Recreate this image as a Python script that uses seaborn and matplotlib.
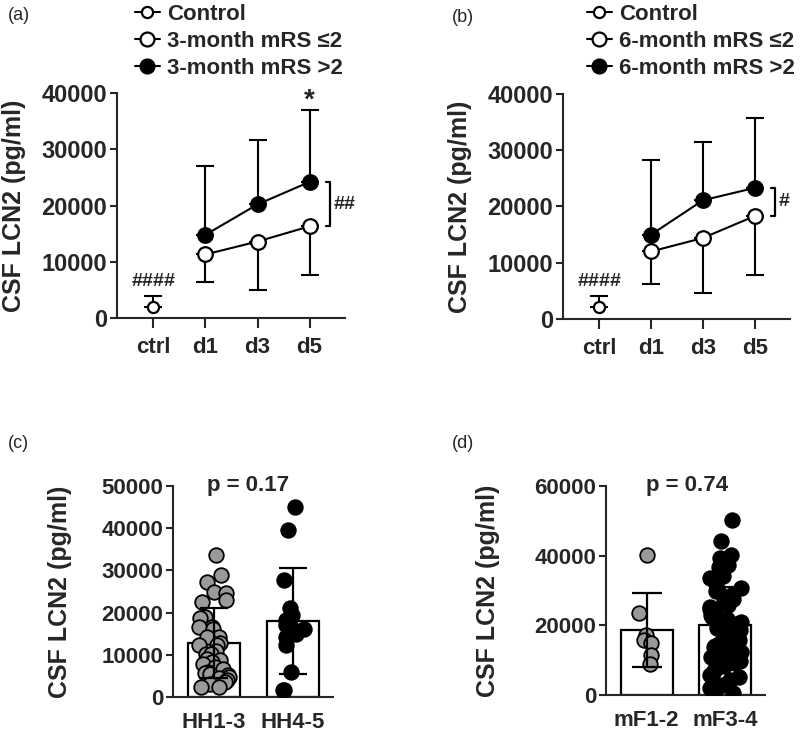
import numpy as np
import pandas as pd
import matplotlib
matplotlib.use('Agg')
import matplotlib.pyplot as plt
import seaborn as sns
from matplotlib.lines import Line2D

# ---- panels a / b : mean with one-sided SD (pg/ml) ----
days = ['ctrl', 'd1', 'd3', 'd5']

a_ctrl_mean = [2000]
a_ctrl_sd = [1900]
a_good_mean = [11300, 13600, 16300]   # 3-month mRS <=2, SD drawn down
a_good_sd = [4900, 8600, 8700]
a_poor_mean = [14800, 20200, 24200]   # 3-month mRS >2, SD drawn up
a_poor_sd = [12200, 11500, 12800]

b_ctrl_mean = [2100]
b_ctrl_sd = [2000]
b_good_mean = [12000, 14400, 18300]
b_good_sd = [5800, 9800, 10500]
b_poor_mean = [15000, 21100, 23300]
b_poor_sd = [13300, 10400, 12500]

# ---- panel c : Hunt-Hess grade ----
hh_groups = ['HH1-3', 'HH4-5']
hh_mean = [12800, 18000]
hh_sd = [8200, 12600]
hh13 = [33600, 28900, 27300, 24900, 24600, 22900, 22500, 19000, 18600, 16600,
        16500, 16200, 14200, 14200, 12700, 12300, 12300, 11000, 10300, 10300,
        9100, 8800, 8300, 7900, 7100, 6700, 6000, 5800, 5500, 5100, 4700, 4400,
        4000, 3600, 3000, 2400, 2400]
hh45 = [45000, 39600, 27700, 21200, 19400, 18200, 17000, 16600, 16200, 15000,
        14200, 12300, 5900, 1600, 1600]

# ---- panel d : modified Fisher grade ----
mf_groups = ['mF1-2', 'mF3-4']
mf_mean = [18700, 20000]
mf_sd = [10600, 11000]
mf12 = [40200, 23400, 17200, 15800, 14800, 11500, 8900]
mf34 = [50200, 44300, 40100, 39200, 37400, 36800, 34100, 33500, 31900, 30600,
        29800, 28700, 28300, 27600, 26900, 25800, 25200, 24700, 24300, 23600,
        23100, 22400, 21900, 21700, 21000, 20600, 20100, 19700, 19200, 18800,
        18300, 17900, 17400, 17100, 16600, 16200, 15800, 15300, 14900, 14600,
        14100, 13700, 13300, 12800, 12200, 11900, 11300, 10800, 10400, 9700,
        9100, 8600, 8200, 7400, 6900, 5800, 5100, 4300, 3700, 2900, 2100, 1200, 600]

sns.set_style('ticks')
plt.rcParams['font.family'] = ['Liberation Sans', 'DejaVu Sans']
plt.rcParams['font.weight'] = 'bold'
plt.rcParams['axes.labelweight'] = 'bold'
plt.rcParams['axes.linewidth'] = 1.5
np.random.seed(3)

GRAY = '#9a9a9a'
YLABEL = 'CSF LCN2 (pg/ml)'

fig = plt.figure(figsize=(8, 7.37), dpi=100)
ax_a = fig.add_axes([0.14625, 0.5685, 0.285, 0.3053])
ax_b = fig.add_axes([0.70375, 0.5672, 0.28375, 0.3053])
ax_c = fig.add_axes([0.21625, 0.0543, 0.2, 0.2863])
ax_d = fig.add_axes([0.7575, 0.0570, 0.19875, 0.2836])


def line_panel(ax, ctrl_mean, ctrl_sd, good_mean, good_sd, poor_mean, poor_sd,
               star, sig):
    line_kw = dict(color='black', lw=1.5, marker='o', markeredgecolor='black',
                   markeredgewidth=1.6, zorder=3)
    eb_kw = dict(fmt='none', ecolor='black', elinewidth=1.5, capsize=6.5,
                 capthick=1.5, zorder=2)
    sns.lineplot(x=days[:1], y=ctrl_mean, ax=ax, markersize=8,
                 markerfacecolor='white', **line_kw)
    sns.lineplot(x=days[1:], y=good_mean, ax=ax, markersize=10.5,
                 markerfacecolor='white', **line_kw)
    sns.lineplot(x=days[1:], y=poor_mean, ax=ax, markersize=10.5,
                 markerfacecolor='black', **line_kw)
    ax.errorbar(days[:1], ctrl_mean, yerr=[[0], ctrl_sd], **eb_kw)
    ax.errorbar(days[1:], good_mean, yerr=[good_sd, [0] * 3], **eb_kw)
    ax.errorbar(days[1:], poor_mean, yerr=[[0] * 3, poor_sd], **eb_kw)

    # significance marks
    ax.text(0, ctrl_mean[0] + ctrl_sd[0] + 1000, '####', ha='center',
            va='bottom', fontsize=14, fontweight='bold')
    if star:
        i = len(days) - 1
        ax.text(i, poor_mean[-1] + poor_sd[-1] + 1600, '*', ha='center',
                va='center', fontsize=20, fontweight='bold')
    xb = len(days) - 1
    ax.plot([xb + 0.31, xb + 0.40, xb + 0.40, xb + 0.31],
            [poor_mean[-1], poor_mean[-1], good_mean[-1], good_mean[-1]],
            color='black', lw=1.6, clip_on=False)
    ax.text(xb + 0.47, (poor_mean[-1] + good_mean[-1]) / 2, sig, ha='left',
            va='center', fontsize=14, fontweight='bold')

    ax.set_xlim(-0.7, 3.68)
    ax.set_ylim(0, 40000)
    ax.set_yticks([0, 10000, 20000, 30000, 40000])
    ax.tick_params(axis='y', length=5, width=1.5, labelsize=17, pad=2)
    ax.tick_params(axis='x', length=7, width=1.5, labelsize=16, pad=7)
    ax.set_ylabel(YLABEL, fontsize=18, fontweight='bold')
    ax.yaxis.set_label_coords(-0.40, 0.5)
    sns.despine(ax=ax)


line_panel(ax_a, a_ctrl_mean, a_ctrl_sd, a_good_mean, a_good_sd,
           a_poor_mean, a_poor_sd, True, '##')
line_panel(ax_b, b_ctrl_mean, b_ctrl_sd, b_good_mean, b_good_sd,
           b_poor_mean, b_poor_sd, False, '#')


def legend_for(ax, month, x0):
    hkw = dict(color='black', lw=1.5, marker='o', markeredgecolor='black',
               markeredgewidth=1.6)
    handles = [Line2D([], [], markersize=8, markerfacecolor='white', **hkw),
               Line2D([], [], markersize=10, markerfacecolor='white', **hkw),
               Line2D([], [], markersize=10, markerfacecolor='black', **hkw)]
    labels = ['Control', f'{month}-month mRS \u22642', f'{month}-month mRS >2']
    ax.legend(handles, labels, loc='upper left', bbox_to_anchor=(x0, 0.995),
              bbox_transform=fig.transFigure, frameon=False, fontsize=16,
              handlelength=1.1, handletextpad=0.35, labelspacing=0.28,
              borderpad=0, borderaxespad=0)


legend_for(ax_a, 3, 0.169)
legend_for(ax_b, 6, 0.734)


def bar_panel(ax, groups, means, sds, pts, colors, jitters, top, step, ptxt,
              px, capsize):
    sns.barplot(x=groups, y=means, order=groups, color='white', saturation=1,
                edgecolor='black', linewidth=1.6, width=0.66, errorbar=None,
                ax=ax, zorder=1)
    for g, vals, col, jit in zip(groups, pts, colors, jitters):
        df = pd.DataFrame({'group': g, 'lcn2': vals})
        sns.stripplot(data=df, x='group', y='lcn2', order=groups, color=col,
                      edgecolor='black', linewidth=1.3, size=10.5, jitter=jit,
                      ax=ax, zorder=3)
    ax.errorbar(range(len(groups)), means, yerr=sds, fmt='none', ecolor='black',
                elinewidth=1.6, capsize=capsize, capthick=1.6, zorder=4)
    ax.text(px, top, ptxt, ha='center', va='center', fontsize=16,
            fontweight='bold')
    ax.set_xlim(-0.52, 1.51)
    ax.set_ylim(0, top)
    ax.set_yticks(np.arange(0, top + 1, step))
    ax.tick_params(axis='y', length=5, width=1.5, labelsize=16, pad=2)
    ax.tick_params(axis='x', length=0, labelsize=16, pad=11)
    ax.set_xlabel('')
    ax.set_ylabel(YLABEL, fontsize=18, fontweight='bold')
    sns.despine(ax=ax)


bar_panel(ax_c, hh_groups, hh_mean, hh_sd, [hh13, hh45], [GRAY, 'black'],
          [0.2, 0.2], 50000, 10000, 'p = 0.17', 0.43, 10)
ax_c.yaxis.set_label_coords(-0.63, 0.5)
bar_panel(ax_d, mf_groups, mf_mean, mf_sd, [mf12, mf34], [GRAY, 'black'],
          [0.12, 0.22], 60000, 20000, 'p = 0.74', 0.52, 11)
ax_d.yaxis.set_label_coords(-0.667, 0.5)

for txt, x, y in [('(a)', 0.010, 15), ('(b)', 0.565, 17),
                  ('(c)', 0.010, 443), ('(d)', 0.565, 443)]:
    fig.text(x, 1 - y / 737, txt, fontsize=13, fontweight='normal',
             va='center', ha='left')

fig.savefig('out.png', dpi=100)
